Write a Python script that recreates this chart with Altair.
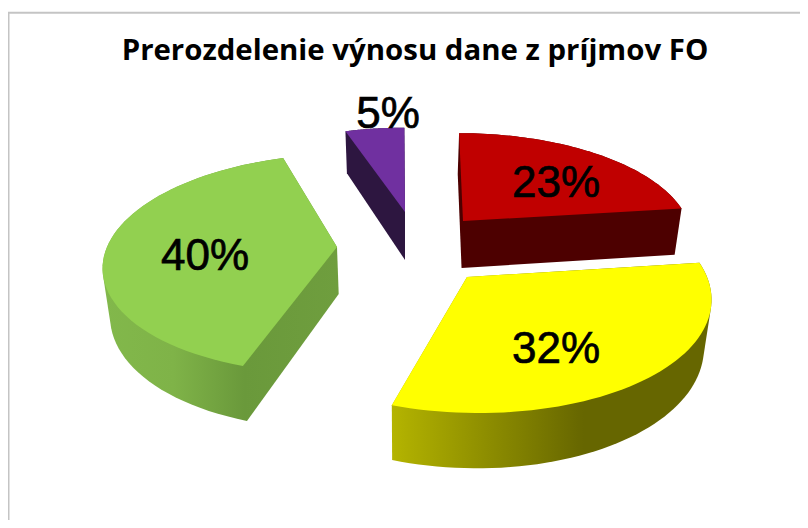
import math
import altair as alt

TITLE = "Prerozdelenie výnosu dane z príjmov FO"
NAMES = ["a", "b", "c", "d"]
SHARES = [23, 32, 40, 5]
TOPS = ["#c00000", "#ffff00", "#92d050", "#7030a0"]
SIDES = [
    [("#4d0000", 0), ("#4d0000", 1)],
    [("#b4b400", 0), ("#666600", 0.6), ("#666600", 1)],
    [("#82b84b", 0), ("#7fb348", 0.3), ("#6a993b", 0.6), ("#6f9e3e", 1)],
    [("#2d1640", 0), ("#2d1640", 1)],
]

# Projection of the tilted, exploded pie, per slice, in page pixels
GEOM = {
    "a": dict(ax=463, ay=221, rx=225, ry=101, k=0.15, s=30, t=47),
    "b": dict(ax=467, ay=277, rx=240, ry=115.6, k=0.15, s=68, t=47),
    "c": dict(ax=337, ay=247, rx=230, ry=107, k=0.152, s=-65, t=47),
    "d": dict(ax=405, ay=212, rx=218, ry=97, k=0.15, s=5, t=48),
}
LABEL_POS = {"a": (556, 197), "b": (556, 363), "c": (205, 270), "d": (388, 128)}
DRAW_ORDER = ["d", "a", "c", "b"]
VX, BOTTOM_SCALE = 405, 0.975


def project(g, X, Y):
    w = 1 + g["k"] * Y
    x = g["ax"] + g["rx"] * X / w + g["s"] * (1 / w - 1)
    y = g["ay"] - g["ry"] * Y / w
    return x, y, w


def sector(share_start, share):
    return [2 * math.pi * (share_start + share * i / 60) / 100 for i in range(61)]


def hull(points):
    pts = sorted(set(points))

    def cross(o, a, b):
        return (a[0] - o[0]) * (b[1] - o[1]) - (a[1] - o[1]) * (b[0] - o[0])

    lo, up = [], []
    for p in pts:
        while len(lo) > 1 and cross(lo[-2], lo[-1], p) <= 0:
            lo.pop()
        lo.append(p)
    for p in reversed(pts):
        while len(up) > 1 and cross(up[-2], up[-1], p) <= 0:
            up.pop()
        up.append(p)
    return lo[:-1] + up[:-1]


def feature(ring):
    ring = [list(p) for p in ring]
    ring.append(ring[0])
    return {"type": "Feature", "properties": {},
            "geometry": {"type": "Polygon", "coordinates": [ring]}}


PROJ = dict(type="identity", scale=1, translate=[-8, -8])

shapes = {}
start = 0
for name, share in zip(NAMES, SHARES):
    g = GEOM[name]
    top = [(g["ax"], g["ay"])]
    wall = [(VX + (g["ax"] - VX) * BOTTOM_SCALE, g["ay"] + g["t"]), top[0]]
    for a in sector(start, share):
        x, y, w = project(g, math.sin(a), math.cos(a))
        top.append((x, y))
        wall.append((x, y))
        wall.append((VX + (x - VX) * BOTTOM_SCALE, y + g["t"] / w))
    shapes[name] = (top, hull(wall))
    start += share

layers = []
xs = alt.Scale(domain=[8, 800])
ys = alt.Scale(domain=[520, 8])

frame = alt.Chart(alt.Data(values=[{"k": 0}]))
layers.append(frame.mark_rule(color="#c4c4c4", strokeWidth=2).encode(
    x=alt.value(0.5), y=alt.value(4.7), y2=alt.value(512)))
layers.append(frame.mark_rule(color="#c4c4c4", strokeWidth=2).encode(
    x=alt.value(0), x2=alt.value(792), y=alt.value(4.7)))

for name in DRAW_ORDER:
    i = NAMES.index(name)
    top, side = shapes[name]
    grad = alt.LinearGradient(
        gradient="linear", x1=0, y1=0, x2=1, y2=0,
        stops=[alt.GradientStop(color=c, offset=o) for c, o in SIDES[i]],
    )
    layers.append(alt.Chart(alt.Data(values=[feature(side)]))
                  .mark_geoshape(fill=grad).project(**PROJ))
    layers.append(alt.Chart(alt.Data(values=[feature(top)]))
                  .mark_geoshape(fill=TOPS[i]).project(**PROJ))

label_rows = [
    {"t": f"{s}%", "x": LABEL_POS[n][0], "y": LABEL_POS[n][1]}
    for n, s in zip(NAMES, SHARES)
]
layers.append(
    alt.Chart(alt.Data(values=label_rows))
    .mark_text(font="Liberation Sans", fontSize=44, color="#000000",
               stroke="#000000", strokeWidth=0.7,
               align="center", baseline="alphabetic")
    .encode(x=alt.X("x:Q", scale=xs, axis=None),
            y=alt.Y("y:Q", scale=ys, axis=None), text="t:N")
)
layers.append(
    alt.Chart(alt.Data(values=[{"t": TITLE, "x": 415, "y": 60}]))
    .mark_text(font="Open Sans", fontWeight="bold", fontSize=29.4, color="#000000",
               align="center", baseline="alphabetic")
    .encode(x=alt.X("x:Q", scale=xs, axis=None),
            y=alt.Y("y:Q", scale=ys, axis=None), text="t:N")
)

chart = (
    alt.layer(*layers)
    .properties(width=792, height=512, padding=0, background="#ffffff",
                autosize=alt.AutoSizeParams(type="none"))
    .configure_view(stroke=None)
)
chart.save("out.html", embed_options={"renderer": "svg", "actions": False})
